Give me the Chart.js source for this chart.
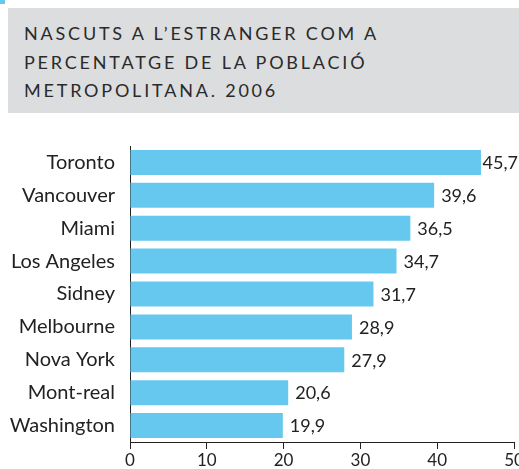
<!DOCTYPE html>
<html>
<head>
<meta charset="utf-8">
<script src="https://cdn.jsdelivr.net/npm/chart.js@4"></script>
<style>
  body { margin: 0; width: 519px; height: 469px; position: relative; background: #fff; overflow: hidden; }
  .corner { position: absolute; left: 0; top: 0; width: 5px; height: 4px; background: #67c8ef; }
  .title-box {
    position: absolute; left: 8px; top: 8px; width: 511px; height: 105px;
    background: #dcdddf; box-sizing: border-box; padding: 11px 0 0 16px;
    font-family: Lato, sans-serif; font-size: 18px; letter-spacing: 2.8px;
    line-height: 28.5px; color: #2a2a2a;
  }
  #chart { position: absolute; left: 0; top: 0; }
</style>
</head>
<body>
<div class="corner"></div>
<div class="title-box">NASCUTS A L’ESTRANGER COM A<br>PERCENTATGE DE LA POBLACIÓ<br>METROPOLITANA. 2006</div>
<canvas id="chart" width="519" height="469"></canvas>
<script>
const cities = ['Toronto', 'Vancouver', 'Miami', 'Los Angeles', 'Sidney', 'Melbourne', 'Nova York', 'Mont-real', 'Washington'];
const shares = [45.7, 39.6, 36.5, 34.7, 31.7, 28.9, 27.9, 20.6, 19.9];
const xTicks = [0, 10, 20, 30, 40, 50];

const textColor = '#222';
const barColor = '#67c8ef';

// etiquetes de valor a la dreta de cada barra
const valueLabels = {
    id: 'valueLabels',
    afterDatasetsDraw(chart) {
        const ctx = chart.ctx;
        const meta = chart.getDatasetMeta(0);
        ctx.save();
        ctx.font = '18px Lato, sans-serif';
        ctx.fillStyle = textColor;
        ctx.textBaseline = 'middle';
        meta.data.forEach((bar, i) => {
            const txt = shares[i].toFixed(1).replace('.', ',');
            const w = ctx.measureText(txt).width;
            const x = Math.min(bar.x + 7, chart.width - w - 1);
            ctx.fillText(txt, x, bar.y + 1);
        });
        ctx.restore();
    }
};

new Chart(document.getElementById('chart'), {
    type: 'bar',
    data: {
        labels: cities,
        datasets: [{
            data: shares,
            backgroundColor: barColor,
            borderWidth: 0,
            categoryPercentage: 1,
            barPercentage: 0.76
        }]
    },
    options: {
        indexAxis: 'y',
        responsive: false,
        animation: false,
        layout: { padding: { top: 146, right: 5, left: 0, bottom: 0 } },
        plugins: {
            legend: { display: false },
            tooltip: { enabled: false }
        },
        scales: {
            x: {
                min: 0,
                max: 50,
                afterBuildTicks: (scale) => { scale.ticks = xTicks.map(v => ({ value: v })); },
                afterFit: (scale) => { scale.height = 26; scale.paddingLeft = 0; scale.paddingRight = 0; },
                grid: { drawOnChartArea: false, tickLength: 7, color: '#222', lineWidth: 1 },
                border: { color: '#222', width: 1 },
                ticks: { color: textColor, font: { family: 'Lato', size: 17 }, padding: 1, maxRotation: 0 }
            },
            y: {
                afterFit: (scale) => { scale.width = 130; },
                grid: { display: false, drawTicks: false },
                border: { color: '#222', width: 1 },
                ticks: { color: textColor, font: { family: 'Lato', size: 20 }, padding: 15 }
            }
        }
    },
    plugins: [valueLabels]
});
</script>
</body>
</html>
